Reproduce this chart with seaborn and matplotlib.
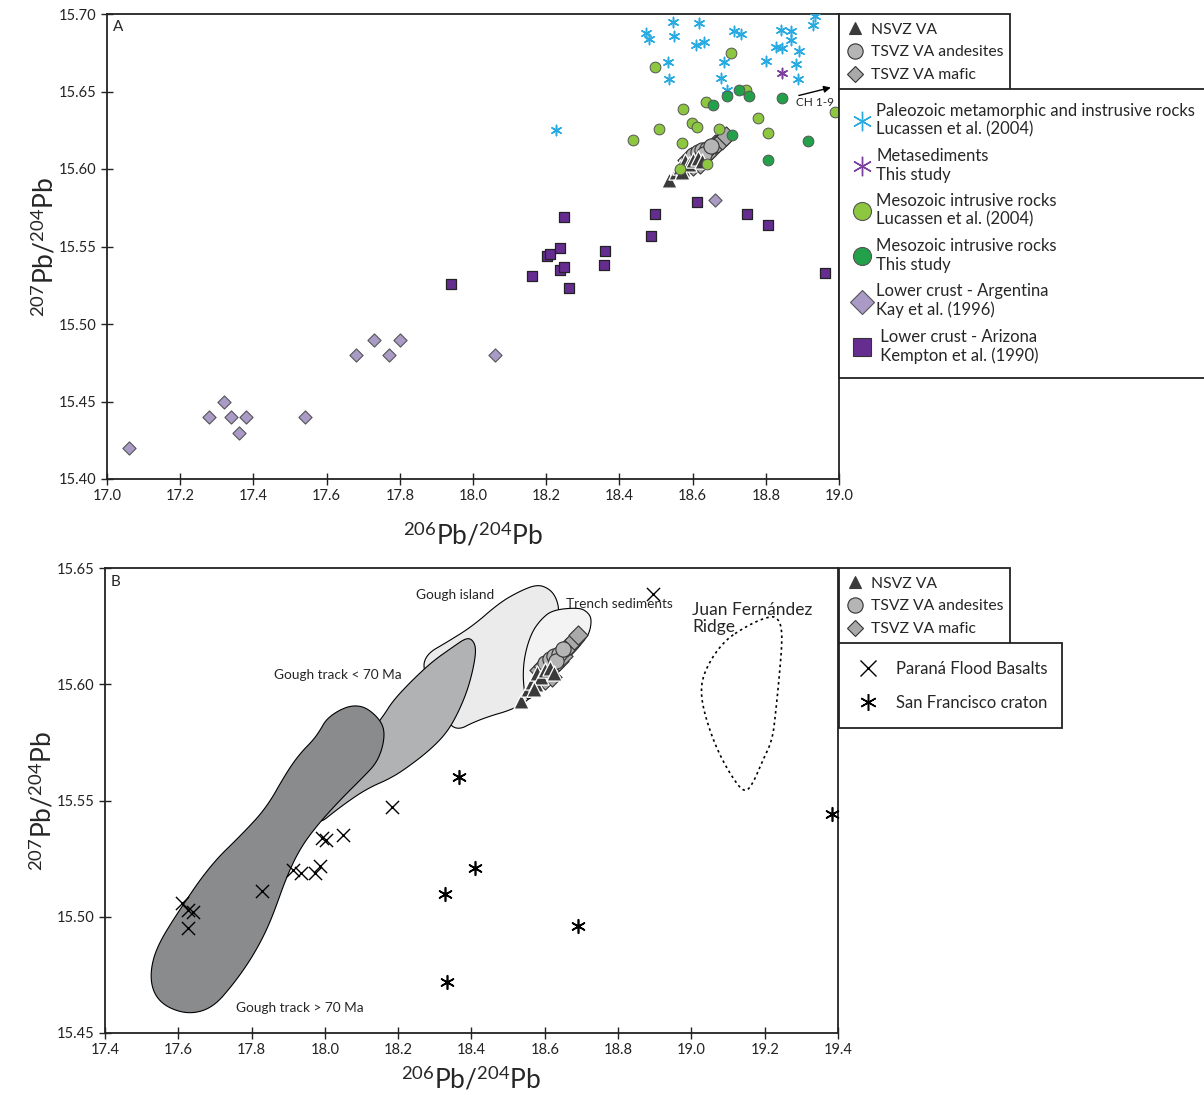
import numpy as np
import pandas as pd
import matplotlib
matplotlib.use("Agg")
import matplotlib.pyplot as plt
from matplotlib.lines import Line2D
from matplotlib.patches import Polygon
import seaborn as sns

sns.set_style("white")
plt.rcParams["font.family"] = ["Lato", "DejaVu Sans"]
plt.rcParams["mathtext.fontset"] = "custom"
plt.rcParams["mathtext.rm"] = "Lato"
plt.rcParams["mathtext.it"] = "Lato:italic"

# ---------------- Volcanic arc samples (shared by both panels) ----------------
nsvz_x = [18.535, 18.555, 18.565, 18.575, 18.580, 18.590, 18.600, 18.615, 18.625, 18.570]
nsvz_y = [15.593, 15.598, 15.601, 15.600, 15.605, 15.603, 15.606, 15.607, 15.605, 15.598]
tsvz_and_x = [18.600, 18.615, 18.625, 18.640, 18.630, 18.650]
tsvz_and_y = [15.609, 15.611, 15.612, 15.613, 15.610, 15.615]
tsvz_maf_x = [18.585, 18.600, 18.610, 18.625, 18.640, 18.650, 18.660, 18.670, 18.680, 18.690, 18.595, 18.620]
tsvz_maf_y = [15.606, 15.602, 15.605, 15.608, 15.610, 15.612, 15.616, 15.617, 15.619, 15.621, 15.608, 15.603]

# ---------------- Panel A: crustal reservoirs ----------------
paleo_x = [18.546, 18.618, 18.473, 18.482, 18.550, 18.608, 18.632, 18.714, 18.732, 18.841,
           18.869, 18.868, 18.828, 18.845, 18.892, 18.934, 18.930, 18.534, 18.687, 18.800,
           18.883, 18.536, 18.678, 18.889, 18.694, 18.227]
paleo_y = [15.695, 15.694, 15.688, 15.684, 15.686, 15.680, 15.682, 15.689, 15.687, 15.690,
           15.689, 15.683, 15.679, 15.678, 15.676, 15.699, 15.693, 15.669, 15.669, 15.670,
           15.668, 15.658, 15.659, 15.658, 15.651, 15.625]
metased_x = [18.843]
metased_y = [15.662]
meso_luc_x = [18.705, 18.497, 18.745, 18.636, 18.573, 18.778, 18.989, 18.597, 18.611, 18.508,
              18.673, 18.805, 18.438, 18.570, 18.638, 18.566]
meso_luc_y = [15.675, 15.666, 15.651, 15.643, 15.639, 15.633, 15.637, 15.630, 15.627, 15.626,
              15.626, 15.623, 15.619, 15.617, 15.603, 15.600]
meso_this_x = [18.727, 18.693, 18.755, 18.657, 18.845, 18.707, 18.916, 18.805]
meso_this_y = [15.651, 15.647, 15.647, 15.641, 15.646, 15.622, 15.618, 15.606]
lc_arg_x = [17.06, 17.28, 17.32, 17.34, 17.38, 17.36, 17.54, 17.68, 17.73, 17.77, 17.80, 18.06, 18.66]
lc_arg_y = [15.42, 15.44, 15.45, 15.44, 15.44, 15.43, 15.44, 15.48, 15.49, 15.48, 15.49, 15.48, 15.58]
lc_ariz_x = [17.941, 18.162, 18.201, 18.210, 18.239, 18.248, 18.238, 18.249, 18.263, 18.360,
             18.359, 18.485, 18.498, 18.613, 18.748, 18.806, 18.963]
lc_ariz_y = [15.526, 15.531, 15.544, 15.545, 15.549, 15.569, 15.535, 15.537, 15.523, 15.547,
             15.538, 15.557, 15.571, 15.579, 15.571, 15.564, 15.533]

# ---------------- Panel B: mantle / basalt references ----------------
parana_x = [17.609, 17.627, 17.641, 17.627, 17.829, 17.913, 17.936, 17.972, 17.986, 17.993,
            18.002, 18.049, 18.183, 18.894]
parana_y = [15.506, 15.503, 15.502, 15.495, 15.511, 15.520, 15.519, 15.519, 15.522, 15.534,
            15.533, 15.535, 15.547, 15.639]
sfc_x = [18.367, 18.410, 18.328, 18.334, 18.690, 19.383]
sfc_y = [15.560, 15.521, 15.510, 15.472, 15.496, 15.544]

gough_old = [(17.532, 15.467), (17.523, 15.476), (17.541, 15.487), (17.595, 15.501), (17.686, 15.522),
             (17.777, 15.536), (17.841, 15.547), (17.895, 15.562), (17.931, 15.570), (17.968, 15.576),
             (17.986, 15.580), (18.004, 15.585), (18.040, 15.589), (18.077, 15.591), (18.113, 15.590),
             (18.149, 15.585), (18.163, 15.580), (18.158, 15.573), (18.140, 15.566), (18.104, 15.560),
             (18.040, 15.550), (17.977, 15.539), (17.931, 15.529), (17.895, 15.517), (17.859, 15.501),
             (17.831, 15.491), (17.795, 15.481), (17.750, 15.471), (17.695, 15.461), (17.632, 15.458),
             (17.568, 15.461)]
gough_young = [(17.977, 15.539), (18.040, 15.547), (18.113, 15.555), (18.186, 15.560), (18.249, 15.567),
               (18.295, 15.573), (18.331, 15.579), (18.358, 15.586), (18.386, 15.596), (18.404, 15.606),
               (18.413, 15.615), (18.404, 15.619), (18.386, 15.620), (18.349, 15.616), (18.295, 15.610),
               (18.240, 15.602), (18.186, 15.593), (18.158, 15.586), (18.113, 15.577), (18.058, 15.565),
               (18.013, 15.550)]
gough_island = [(18.266, 15.606), (18.277, 15.613), (18.332, 15.618), (18.403, 15.625), (18.476, 15.635),
                (18.531, 15.640), (18.580, 15.643), (18.613, 15.641), (18.632, 15.637), (18.640, 15.631),
                (18.626, 15.615), (18.585, 15.598), (18.531, 15.590), (18.422, 15.585), (18.348, 15.579),
                (18.313, 15.593)]
trench = [(18.549, 15.5925), (18.540, 15.602), (18.544, 15.612), (18.563, 15.622), (18.590, 15.628),
          (18.622, 15.632), (18.694, 15.633), (18.717, 15.631), (18.728, 15.628), (18.722, 15.622),
          (18.703, 15.618), (18.676, 15.613), (18.640, 15.608), (18.604, 15.602), (18.576, 15.596)]
jf_ridge = [(19.130, 15.623), (19.094, 15.619), (19.058, 15.612), (19.030, 15.603), (19.026, 15.595),
            (19.040, 15.585), (19.067, 15.573), (19.103, 15.562), (19.144, 15.553), (19.167, 15.557),
            (19.194, 15.567), (19.221, 15.576), (19.230, 15.588), (19.239, 15.602), (19.248, 15.619),
            (19.244, 15.626), (19.230, 15.629), (19.212, 15.629), (19.176, 15.627)]


def rounded(points, passes=3):
    """Corner-cut a closed outline so the field boundary is drawn smooth."""
    p = np.asarray(points, float)
    for _ in range(passes):
        q = np.roll(p, -1, axis=0)
        a = 0.75 * p + 0.25 * q
        b = 0.25 * p + 0.75 * q
        p = np.stack([a, b], axis=1).reshape(-1, 2)
    return p


C_NSVZ = "#3a3a3a"
C_AND = "#b5b5b5"
C_MAF = "#a9a9a9"
C_EDGE = "#333333"
C_PALEO = "#29abe2"
C_META = "#7b3f9e"
C_MLUC = "#8dc63f"
C_MTHIS = "#23a04a"
C_LCARG = "#a99bc6"
C_LCAZ = "#662d91"

fig = plt.figure(figsize=(12.04, 10.95), dpi=100)
axA = fig.add_axes([107 / 1204, 1 - 479 / 1095, 732 / 1204, 465 / 1095])
axB = fig.add_axes([105 / 1204, 1 - 1033 / 1095, 733 / 1204, 465 / 1095])


def arc_samples(ax):
    sns.scatterplot(x=tsvz_maf_x, y=tsvz_maf_y, marker="D", s=95, color=C_MAF,
                    edgecolor=C_EDGE, linewidth=0.8, ax=ax, zorder=5)
    sns.scatterplot(x=tsvz_and_x, y=tsvz_and_y, marker="o", s=120, color=C_AND,
                    edgecolor=C_EDGE, linewidth=0.8, ax=ax, zorder=5)
    sns.scatterplot(x=nsvz_x, y=nsvz_y, marker="^", s=120, color=C_NSVZ,
                    edgecolor="white", linewidth=0.9, ax=ax, zorder=6)


# ---------------- Panel A ----------------
sns.scatterplot(x=lc_arg_x, y=lc_arg_y, marker="D", s=45, color=C_LCARG,
                edgecolor="#555555", linewidth=0.8, ax=axA, zorder=3)
sns.scatterplot(x=lc_ariz_x, y=lc_ariz_y, marker="s", s=55, color=C_LCAZ,
                edgecolor="#222222", linewidth=0.9, ax=axA, zorder=3)
arc_samples(axA)
sns.scatterplot(x=paleo_x, y=paleo_y, marker=(6, 2, 0), s=55, color=C_PALEO,
                linewidth=1.1, ax=axA, zorder=4)
sns.scatterplot(x=metased_x, y=metased_y, marker=(6, 2, 0), s=55, color=C_META,
                linewidth=1.1, ax=axA, zorder=4)
sns.scatterplot(x=meso_luc_x, y=meso_luc_y, marker="o", s=60, color=C_MLUC,
                edgecolor="#555555", linewidth=0.7, ax=axA, zorder=7)
sns.scatterplot(x=meso_this_x, y=meso_this_y, marker="o", s=60, color=C_MTHIS,
                edgecolor="#555555", linewidth=0.7, ax=axA, zorder=7)
axA.annotate("", xy=(18.985, 15.653), xytext=(18.883, 15.647),
             arrowprops=dict(arrowstyle="-|>", color="black", lw=1.0, mutation_scale=10), zorder=8)
axA.text(18.934, 15.643, "CH 1-9", fontsize=8.5, ha="center", va="center", zorder=8)
axA.text(0.008, 0.988, "A", transform=axA.transAxes, fontsize=11, ha="left", va="top")

axA.set_xlim(17.0, 19.0)
axA.set_ylim(15.40, 15.70)
axA.set_xticks(np.arange(17.0, 19.01, 0.2))
axA.set_yticks(np.arange(15.40, 15.701, 0.05))
axA.xaxis.set_major_formatter(matplotlib.ticker.FormatStrFormatter("%.1f"))
axA.yaxis.set_major_formatter(matplotlib.ticker.FormatStrFormatter("%.2f"))
axA.set_xlabel(r"$^{206}$Pb/$^{204}$Pb", fontsize=19, labelpad=13)
axA.set_ylabel(r"$^{207}$Pb/$^{204}$Pb", fontsize=19, labelpad=0)

# ---------------- Panel B ----------------
axB.add_patch(Polygon(rounded(gough_island), closed=True, facecolor="#ebebeb",
                      edgecolor="black", lw=0.8, zorder=1))
axB.add_patch(Polygon(rounded(gough_young), closed=True, facecolor="#b1b2b4",
                      edgecolor="black", lw=0.8, zorder=2))
axB.add_patch(Polygon(rounded(gough_old), closed=True, facecolor="#8a8b8d",
                      edgecolor="black", lw=0.8, zorder=3))
axB.add_patch(Polygon(rounded(trench), closed=True, facecolor="#f3f3f3",
                      edgecolor="black", lw=0.8, zorder=2))
axB.add_patch(Polygon(rounded(jf_ridge), closed=True, facecolor="none",
                      edgecolor="black", lw=1.2, ls=(0, (1.5, 2.0)), zorder=2))
arc_samples(axB)
sns.scatterplot(x=parana_x, y=parana_y, marker="x", s=90, color="black",
                linewidth=1.0, ax=axB, zorder=7)
sns.scatterplot(x=sfc_x, y=sfc_y, marker=(6, 2, 0), s=95, color="black",
                linewidth=1.2, ax=axB, zorder=7, clip_on=False)

axB.text(18.355, 15.6385, "Gough island", fontsize=9.8, ha="center", va="center", zorder=8)
axB.text(18.803, 15.6345, "Trench sediments", fontsize=9.8, ha="center", va="center", zorder=8)
axB.text(19.002, 15.6283, "Juan Fernández\nRidge", fontsize=12.5, ha="left", va="center",
         linespacing=1.1, zorder=8)
axB.text(18.035, 15.6040, "Gough track < 70 Ma", fontsize=9.8, ha="center", va="center", zorder=8)
axB.text(17.931, 15.4608, "Gough track > 70 Ma", fontsize=9.8, ha="center", va="center", zorder=8)
axB.text(0.008, 0.985, "B", transform=axB.transAxes, fontsize=11, ha="left", va="top")

axB.set_xlim(17.4, 19.4)
axB.set_ylim(15.45, 15.65)
axB.set_xticks(np.arange(17.4, 19.41, 0.2))
axB.set_yticks(np.arange(15.45, 15.651, 0.05))
axB.xaxis.set_major_formatter(matplotlib.ticker.FormatStrFormatter("%.1f"))
axB.yaxis.set_major_formatter(matplotlib.ticker.FormatStrFormatter("%.2f"))
axB.set_xlabel(r"$^{206}$Pb/$^{204}$Pb", fontsize=19, labelpad=6)
axB.set_ylabel(r"$^{207}$Pb/$^{204}$Pb", fontsize=19, labelpad=0)

for ax in (axA, axB):
    for sp in ax.spines.values():
        sp.set_color("#222222")
        sp.set_linewidth(1.3)
    ax.tick_params(axis="both", which="major", direction="inout", length=8, width=1.0,
                   labelsize=10.5, colors="#222222", bottom=True, left=True)

# ---------------- Legends ----------------
def H(marker, face, edge, size, mew=0.8):
    return Line2D([], [], ls="none", marker=marker, markerfacecolor=face,
                  markeredgecolor=edge, markersize=size, markeredgewidth=mew)

arc_handles = [H("^", C_NSVZ, C_NSVZ, 9), H("o", C_AND, C_EDGE, 11), H("D", C_MAF, C_EDGE, 8)]
arc_labels = ["NSVZ VA", "TSVZ VA andesites", "TSVZ VA mafic"]


def box(leg):
    fr = leg.get_frame()
    fr.set_edgecolor("#222222")
    fr.set_linewidth(1.3)
    fr.set_boxstyle("square", pad=0)


def arc_legend(y_top_px):
    top = 1 - y_top_px / 1095
    leg = fig.legend(arc_handles, arc_labels, loc="upper left",
                     bbox_to_anchor=(839 / 1204, top - 75 / 1095, 171 / 1204, 75 / 1095),
                     mode="expand", borderaxespad=0, fancybox=False, fontsize=11.3,
                     handlelength=1.0, handletextpad=0.5, labelspacing=0.56, borderpad=0.55,
                     framealpha=1)
    box(leg)
    return leg

arc_legend(14)
arc_legend(568)

crust_handles = [H((6, 2, 0), C_PALEO, C_PALEO, 14, 1.0), H((6, 2, 0), C_META, C_META, 14, 1.0),
                 H("o", C_MLUC, "#555555", 13), H("o", C_MTHIS, "#555555", 13),
                 H("D", C_LCARG, "#555555", 12), H("s", C_LCAZ, "#333333", 13)]
crust_labels = ["Paleozoic metamorphic and instrusive rocks\nLucassen et al. (2004)",
                "Metasediments\nThis study",
                "Mesozoic intrusive rocks\nLucassen et al. (2004)",
                "Mesozoic intrusive rocks\nThis study",
                "Lower crust - Argentina\nKay et al. (1996)",
                " Lower crust - Arizona\n Kempton et al. (1990)"]
legA2 = fig.legend(crust_handles, crust_labels, loc="upper left",
                   bbox_to_anchor=(839 / 1204, 1 - 377 / 1095, 400 / 1204, 288 / 1095),
                   mode="expand", borderaxespad=0, fancybox=False, fontsize=12,
                   handlelength=1.0, handletextpad=0.4, labelspacing=0.62, borderpad=0.85,
                   framealpha=1)
box(legA2)

ref_handles = [H("x", "black", "black", 12, 1.0), H((6, 2, 0), "black", "black", 12, 1.1)]
ref_labels = ["Paraná Flood Basalts", "San Francisco craton"]
legB2 = fig.legend(ref_handles, ref_labels, loc="upper left",
                   bbox_to_anchor=(839 / 1204, 1 - 732 / 1095, 223 / 1204, 89 / 1095),
                   mode="expand", borderaxespad=0, fancybox=False, fontsize=12,
                   handlelength=1.4, handletextpad=1.0, labelspacing=1.08, borderpad=1.05,
                   framealpha=1)
box(legB2)

fig.savefig("out.png", dpi=100)
